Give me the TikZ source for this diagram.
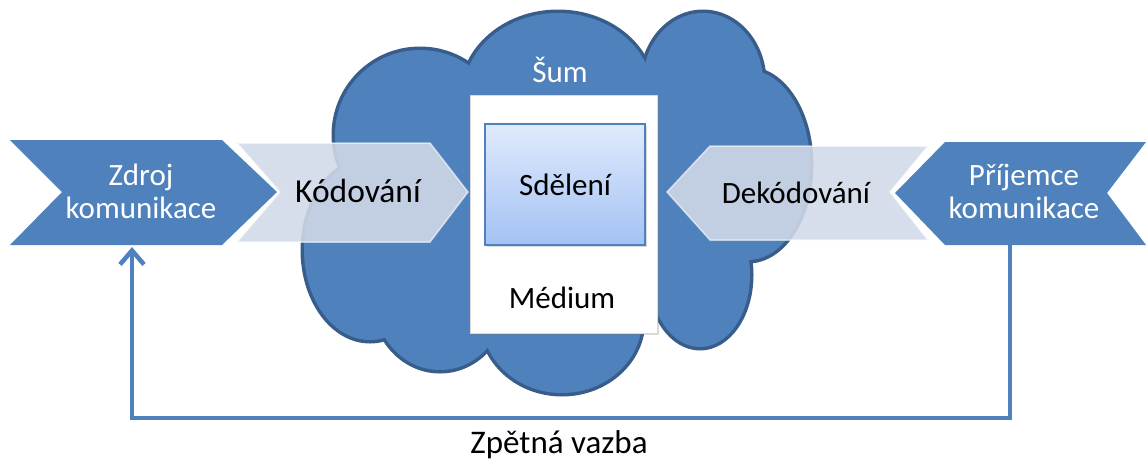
\documentclass[tikz,border=0pt]{standalone}
\usepackage{fontspec}
\setmainfont{Carlito}
\usetikzlibrary{arrows.meta,shadows}
\definecolor{cb}{RGB}{79,129,189}
\definecolor{cl}{RGB}{56,93,138}
\definecolor{cp}{RGB}{210,218,232}
\definecolor{ctop}{RGB}{224,234,252}
\definecolor{cbot}{RGB}{163,194,244}

\begin{document}
\begin{tikzpicture}[
  txt/.style={font=\fontsize{31}{33}\selectfont, align=center, inner sep=0pt},
  big/.style={font=\fontsize{33.5}{36}\selectfont},
  puff/.style={fill=cb, draw=cl, line width=7pt},
  puffin/.style={fill=cb},
  chev/.style={fill=cb},
  pale/.style={fill=cp, fill opacity=0.88, draw=white, draw opacity=0.6, line width=1.5pt},
  fb/.style={draw=cb, line width=4.5pt, -{Straight Barb[length=14pt,width=24pt]}}]
\useasboundingbox (0pt,0pt) rectangle (1146pt,-459pt);
% cloud
\draw [puff] (420pt,-135pt) ellipse [x radius=85pt, y radius=85pt];
\draw [puff] (558pt,-95pt) ellipse [x radius=95pt, y radius=82pt];
\draw [puff] (703pt,-82pt) ellipse [x radius=60pt, y radius=69pt];
\draw [puff] (748pt,-165pt) ellipse [x radius=62pt, y radius=95pt];
\draw [puff] (700pt,-275pt) ellipse [x radius=50pt, y radius=72pt];
\draw [puff] (562pt,-320pt) ellipse [x radius=80pt, y radius=73pt];
\draw [puff] (440pt,-300pt) ellipse [x radius=65pt, y radius=70pt];
\draw [puff] (370pt,-250pt) ellipse [x radius=66pt, y radius=90pt];
\fill [puffin] (420pt,-135pt) ellipse [x radius=85pt, y radius=85pt];
\fill [puffin] (558pt,-95pt) ellipse [x radius=95pt, y radius=82pt];
\fill [puffin] (703pt,-82pt) ellipse [x radius=60pt, y radius=69pt];
\fill [puffin] (748pt,-165pt) ellipse [x radius=62pt, y radius=95pt];
\fill [puffin] (700pt,-275pt) ellipse [x radius=50pt, y radius=72pt];
\fill [puffin] (562pt,-320pt) ellipse [x radius=80pt, y radius=73pt];
\fill [puffin] (440pt,-300pt) ellipse [x radius=65pt, y radius=70pt];
\fill [puffin] (370pt,-250pt) ellipse [x radius=66pt, y radius=90pt];
\fill [puffin] (560pt,-200pt) ellipse [x radius=170pt, y radius=140pt];
\node (sum) [txt, white, anchor=base] at (560pt,-82pt) {Šum};
% medium and message
\node (medium) [fill=white, draw=black!15, line width=0.5pt, minimum width=187pt, minimum height=238pt, drop shadow={opacity=0.3}] at (563.5pt,-214pt) {};
\node (sdeleni) [txt, top color=ctop, bottom color=cbot, draw=cb, line width=1.5pt, minimum width=160pt, minimum height=121pt, drop shadow={opacity=0.3}] at (565pt,-184.5pt) {Sdělení};
\node (mediumtxt) [txt, anchor=base] at (562pt,-308pt) {Médium};
% chevrons
\fill [chev] (10pt,-140pt) -- (222pt,-140pt) -- (277pt,-192pt) -- (222pt,-245pt) -- (10pt,-245pt) -- (62pt,-192pt) -- cycle;
\fill [chev] (1146pt,-142pt) -- (945pt,-142pt) -- (895pt,-193pt) -- (945pt,-245pt) -- (1146pt,-245pt) -- (1107pt,-193pt) -- cycle;
\path [pale] (237pt,-143pt) -- (430pt,-143pt) -- (468pt,-192pt) -- (430pt,-242pt) -- (237pt,-242pt) -- (280pt,-192pt) -- cycle;
\path [pale] (667pt,-192pt) -- (710pt,-146pt) -- (928pt,-146pt) -- (890pt,-192pt) -- (928pt,-240pt) -- (710pt,-240pt) -- cycle;
\node (zdroj) [txt, white, anchor=base] at (141pt,-218pt) {Zdroj\\komunikace};
\node (prijemce) [txt, white, anchor=base] at (1024pt,-218pt) {Příjemce\\komunikace};
\node (kodovani) [txt, big, anchor=base] at (358pt,-202pt) {Kódování};
\node (dekodovani) [txt, anchor=base] at (796pt,-203pt) {Dekódování};
% feedback
\coordinate (prijemce-b) at (1010pt,-245pt);
\coordinate (zdroj-b) at (132pt,-247pt);
\draw [fb] (prijemce-b) -- ++(0pt,-173pt) -| (zdroj-b);
\node (zpetna) [txt, font=\fontsize{33}{36}\selectfont, anchor=base] at (559pt,-453pt) {Zpětná vazba};
\end{tikzpicture}
\end{document}
